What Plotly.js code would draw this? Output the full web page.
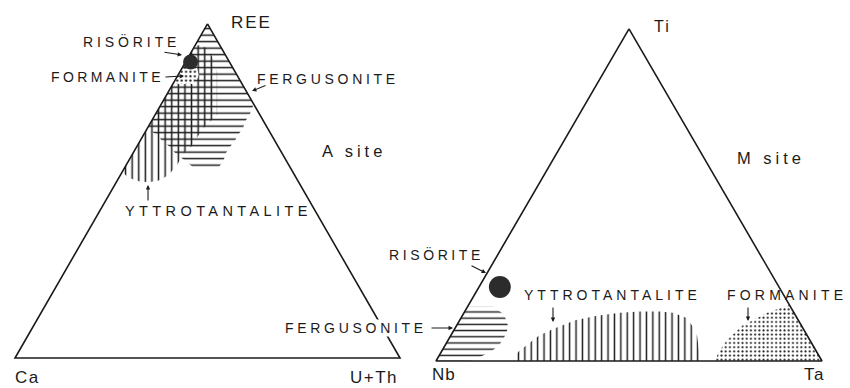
<!DOCTYPE html>
<html>
<head>
<meta charset="utf-8">
<script src="https://cdn.plot.ly/plotly-3.0.1.min.js"></script>
<style>
  html, body { margin: 0; padding: 0; background: #fff; }
  #chart { width: 850px; height: 388px; }
</style>
</head>
<body>
<div id="chart"></div>
<script>
// ---- A site: REE (top), Ca (lower left), U+Th (lower right), mol % ----
const aApexNames = ['REE', 'Ca', 'U+Th'];
const aOutlineREE = [100, 0, 0, 100];
const aOutlineCa  = [0, 100, 0, 0];
const aOutlineUTh = [0, 0, 100, 0];

const aFergREE = [100, 76.0, 73.1, 70.7, 68.6, 66.8, 65.0, 63.2, 61.4, 59.6, 57.2, 57.2, 59.6, 61.4, 63.2, 65.0, 66.8, 68.6];
const aFergCa  = [0, 0, 2.4, 4.9, 6.5, 8.7, 10.4, 12.6, 14.5, 15.9, 18.4, 25.2, 26.6, 27.7, 28.1, 29.3, 29.7, 31.4];
const aFergUTh = [0, 24.0, 24.5, 24.4, 24.9, 24.5, 24.6, 24.2, 24.1, 24.5, 24.4, 17.6, 13.8, 10.9, 8.7, 5.7, 3.5, 0];

const aYttrREE = [55.7, 54.2, 53.4, 52.8, 52.7, 53.1, 54.1, 55.7, 57.8, 61.3, 63.2, 65.9, 68.9, 70.7, 72.8, 85.6, 89.8, 92.5, 93.7, 93.4];
const aYttrCa  = [44.3, 43.6, 42.4, 40.9, 38.6, 36.3, 34.0, 31.6, 29.0, 25.5, 22.7, 19.8, 16.5, 14.0, 11.1, 4.7, 3.7, 3.6, 5.1, 6.6];
const aYttrUTh = [0, 2.2, 4.2, 6.3, 8.7, 10.6, 11.9, 12.7, 13.2, 13.2, 14.1, 14.3, 14.6, 15.3, 16.1, 9.7, 6.5, 3.9, 1.2, 0];

const aFormREE = [86.5, 86.8, 84.4, 82.0, 82.0];
const aFormCa  = [13.5, 9.3, 10.0, 12.8, 18.0];
const aFormUTh = [0, 3.9, 5.6, 5.2, 0];

const aRisoREE = [88.6];
const aRisoCa  = [10.1];
const aRisoUTh = [1.3];

// ---- M site: Ti (top), Nb (lower left), Ta (lower right), mol % ----
const mApexNames = ['Ti', 'Nb', 'Ta'];
const mOutlineTi = [100, 0, 0, 100];
const mOutlineNb = [0, 100, 0, 0];
const mOutlineTa = [0, 0, 100, 0];

const mFergTi = [16.3, 16.3, 14.2, 12.0, 9.9, 7.5, 5.1, 3.0, 1.2, 0, 0];
const mFergNb = [83.7, 77.1, 75.5, 75.6, 76.4, 78.4, 80.9, 84.0, 88.0, 91.2, 100];
const mFergTa = [0, 6.6, 10.3, 12.4, 13.7, 14.1, 14.0, 13.0, 10.8, 8.8, 0];

const mYttrTi = [0, 1.5, 3.3, 4.8, 6.3, 7.8, 8.7, 9.6, 10.5, 12.3, 13.6, 14.5, 14.9, 14.9, 14.5, 13.0, 10.8, 7.5, 2.7, 0];
const mYttrNb = [80.0, 78.8, 76.6, 74.0, 71.7, 69.2, 66.9, 64.9, 62.6, 57.8, 51.5, 45.1, 39.7, 34.5, 31.4, 28.7, 28.3, 28.6, 30.5, 31.6];
const mYttrTa = [20.0, 19.7, 20.1, 21.2, 22.0, 23.0, 24.4, 25.5, 26.9, 29.9, 34.9, 40.4, 45.4, 50.6, 54.1, 58.3, 60.9, 63.9, 66.8, 68.4];

const mFormTi = [16.9, 14.5, 10.8, 6.3, 2.4, 0, 0];
const mFormNb = [0, 7.0, 15.1, 21.5, 25.7, 27.7, 0];
const mFormTa = [83.1, 78.5, 74.1, 72.2, 71.9, 72.3, 100];

const mRisoTi = [22.3];
const mRisoNb = [72.3];
const mRisoTa = [5.4];

const mineralNames = ['RISÖRITE', 'FORMANITE', 'FERGUSONITE', 'YTTROTANTALITE'];
const siteNames = ['A site', 'M site'];

// ---- ternary -> cartesian (equilateral triangle, base length 1) ----
const SQ = Math.sqrt(3) / 2;
function toXY(top, left, right) {
  const xs = [], ys = [];
  for (let i = 0; i < top.length; i++) {
    const s = top[i] + left[i] + right[i];
    xs.push((right[i] + top[i] / 2) / s);
    ys.push(top[i] / s * SQ);
  }
  return { x: xs, y: ys };
}

const INK = '#1b1b1b';

function outline(top, left, right, ax) {
  const p = toXY(top, left, right);
  return { type: 'scatter', mode: 'lines', x: p.x, y: p.y, xaxis: ax[0], yaxis: ax[1],
           line: { color: INK, width: 1.6 }, hoverinfo: 'skip', showlegend: false };
}
function region(top, left, right, ax, pattern, bg) {
  const p = toXY(top, left, right);
  return { type: 'scatter', mode: 'none', x: p.x, y: p.y, xaxis: ax[0], yaxis: ax[1],
           fill: 'toself', fillcolor: bg || 'rgba(0,0,0,0)',
           fillpattern: Object.assign({ fgcolor: INK, bgcolor: bg || 'rgba(0,0,0,0)' }, pattern),
           hoverinfo: 'skip', showlegend: false };
}
function blob(top, left, right, ax, size) {
  const p = toXY(top, left, right);
  return { type: 'scatter', mode: 'markers', x: p.x, y: p.y, xaxis: ax[0], yaxis: ax[1],
           marker: { size: size, color: '#2c2c2c', line: { width: 0 } },
           hoverinfo: 'skip', showlegend: false };
}

const A = ['x', 'y'], M = ['x2', 'y2'];
const hLines = (size) => ({ shape: '-', size: size, solidity: 0.23 });
const vLines = (size) => ({ shape: '|', size: size, solidity: 0.23 });
const dots = (size, sol) => ({ shape: '.', size: size, solidity: sol });

const traces = [
  region(aYttrREE, aYttrCa, aYttrUTh, A, vLines(6.6)),
  region(aFergREE, aFergCa, aFergUTh, A, hLines(6.5)),
  region(aFormREE, aFormCa, aFormUTh, A, dots(4.4, 0.2), '#ffffff'),
  outline(aOutlineREE, aOutlineCa, aOutlineUTh, A),
  blob(aRisoREE, aRisoCa, aRisoUTh, A, 15),

  region(mFergTi, mFergNb, mFergTa, M, hLines(6.2)),
  region(mYttrTi, mYttrNb, mYttrTa, M, vLines(6.4)),
  region(mFormTi, mFormNb, mFormTa, M, dots(4.2, 0.18)),
  outline(mOutlineTi, mOutlineNb, mOutlineTa, M),
  blob(mRisoTi, mRisoNb, mRisoTa, M, 22)
];

// ---- page geometry: each triangle gets its own hidden pair of axes,
//      with room around it so the corner and mineral labels stay in range ----
const W = 850, H = 388;
function frame(x0, y0, sx, sy, pad) {
  return {
    xd: [(x0 - pad.l * sx) / W, (x0 + (1 + pad.r) * sx) / W],
    yd: [(H - (y0 + pad.b * sy)) / H, (H - (y0 - (SQ + pad.t) * sy)) / H],
    xr: [-pad.l, 1 + pad.r],
    yr: [-pad.b, SQ + pad.t]
  };
}
const fA = frame(15, 358, 385, 385.7, { l: 0.03, r: 0.03, b: 0.06, t: 0.03 });
const fM = frame(436, 361, 386, 383.4, { l: 0.06, r: 0.06, b: 0.06, t: 0.03 });
const hidden = (domain, range) => ({ domain: domain, range: range, visible: false, fixedrange: true });

const FONT = 'Liberation Sans, Arial, Helvetica, sans-serif';
function label(ax, text, x, y, xanchor, size, spacing, bg) {
  const a = {
    xref: ax[0], yref: ax[1], x: x, y: y, xanchor: xanchor, yanchor: 'middle',
    text: '<span style="letter-spacing:' + spacing + 'px">' + text + '</span>',
    showarrow: false, font: { family: FONT, size: size, color: INK }
  };
  if (bg) { a.bgcolor = bg; a.borderpad = 0; }
  return a;
}
function arrow(ax, tailX, tailY, headX, headY) {
  return {
    xref: ax[0], yref: ax[1], axref: ax[0], ayref: ax[1],
    x: headX, y: headY, ax: tailX, ay: tailY, text: '',
    showarrow: true, arrowhead: 2, arrowsize: 0.8, arrowwidth: 1.1,
    arrowcolor: INK, standoff: 0
  };
}

const annotations = [
  // A site
  label(A, aApexNames[0], 0.5558, 0.8686, 'left', 17, 2),
  label(A, aApexNames[1], -0.0052, -0.0493, 'left', 17, 1.5),
  label(A, aApexNames[2], 0.9987, -0.0493, 'right', 17, 1.5),
  label(A, siteNames[0], 0.7922, 0.5367, 'left', 16.5, 4),
  label(A, mineralNames[0], 0.4325, 0.8193, 'right', 14, 3.9),
  arrow(A, 0.3844, 0.7934, 0.4338, 0.7856),
  label(A, mineralNames[1], 0.3909, 0.7285, 'right', 14, 3.4),
  arrow(A, 0.3870, 0.7285, 0.4390, 0.7311),
  label(A, mineralNames[2], 0.6234, 0.7234, 'left', 14, 3.7),
  arrow(A, 0.6545, 0.7078, 0.6156, 0.6922),
  label(A, mineralNames[3], 0.2805, 0.3811, 'left', 14.5, 4.4),
  arrow(A, 0.3455, 0.4045, 0.3455, 0.4485),

  // M site
  label(M, mApexNames[0], 0.5596, 0.8712, 'left', 16, 2),
  label(M, mApexNames[1], -0.0155, -0.0352, 'left', 17, 1),
  label(M, mApexNames[2], 1.0117, -0.0352, 'right', 17, 1.5),
  label(M, siteNames[1], 0.7746, 0.5295, 'left', 16.5, 4),
  label(M, mineralNames[0], 0.1308, 0.2765, 'right', 14, 3.6),
  arrow(M, 0.0881, 0.2504, 0.1295, 0.2295),
  label(M, mineralNames[2], -0.0220, 0.0861, 'right', 14, 3.7, '#ffffff'),
  arrow(M, -0.0155, 0.0861, 0.0440, 0.0861),
  label(M, mineralNames[3], 0.2228, 0.1721, 'left', 14, 4.0),
  arrow(M, 0.3031, 0.1435, 0.3031, 0.1017),
  label(M, mineralNames[1], 0.7487, 0.1721, 'left', 14, 4.2),
  arrow(M, 0.8083, 0.1435, 0.8083, 0.1043)
];

const layout = {
  width: W, height: H,
  margin: { l: 0, r: 0, t: 0, b: 0 },
  paper_bgcolor: '#ffffff', plot_bgcolor: 'rgba(0,0,0,0)',
  showlegend: false,
  xaxis: hidden(fA.xd, fA.xr),
  yaxis: hidden(fA.yd, fA.yr),
  xaxis2: hidden(fM.xd, fM.xr),
  yaxis2: hidden(fM.yd, fM.yr),
  annotations: annotations
};

Plotly.newPlot('chart', traces, layout, { staticPlot: true, displayModeBar: false });
</script>
</body>
</html>
